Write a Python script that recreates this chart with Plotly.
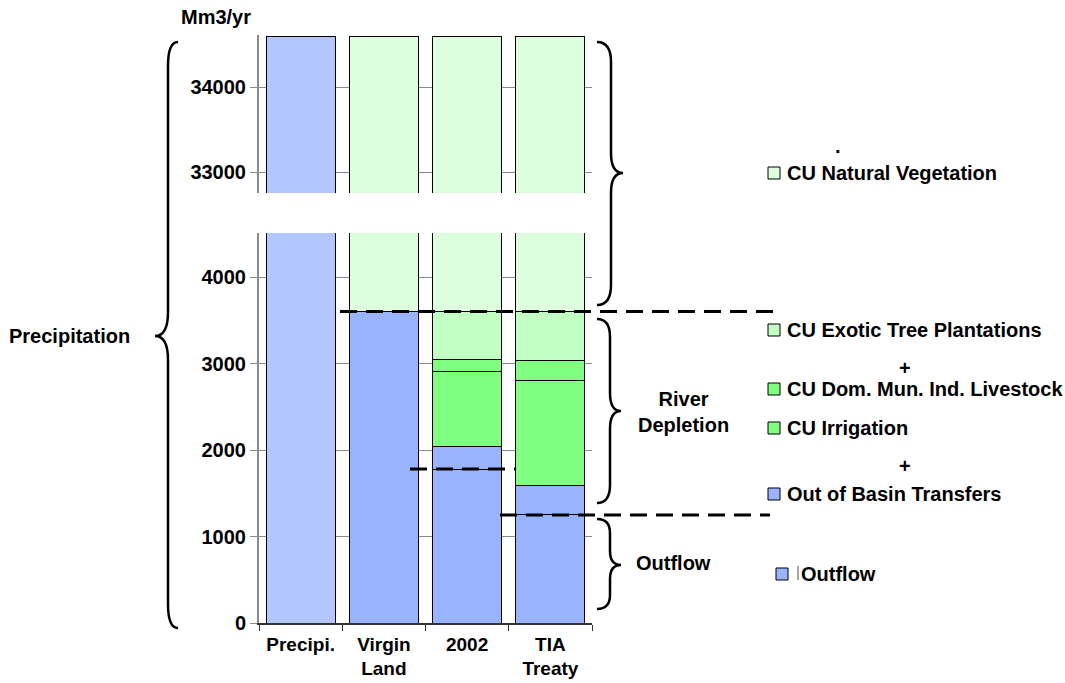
import plotly.graph_objects as go

# ---------------- data ----------------
categories = ["Precipi.", "Virgin<br>Land", "2002", "TIA<br>Treaty"]
precipitation = [34600, None, None, None]
outflow = [None, 3600, 1780, 1250]
out_of_basin = [None, None, 255, 345]
cu_irrigation = [None, None, 878, 1214]
cu_dom_mun_ind = [None, None, 139, 231]
cu_exotic = [None, None, 548, 560]
cu_natural = [None, 31000, 31000, 31000]

lower_ticks = [0, 1000, 2000, 3000, 4000]
upper_ticks = [33000, 34000]

C_PRECIP = "#b4c6ff"
C_OUT = "#9ab3ff"
C_NAT = "#ddffdd"
C_EXO = "#c2ffc2"
C_GREEN = "#80ff80"

FONT = "Liberation Sans"
FS = 20

series = [
    (precipitation, C_PRECIP),
    (outflow, C_OUT),
    (out_of_basin, C_OUT),
    (cu_irrigation, C_GREEN),
    (cu_dom_mun_ind, C_GREEN),
    (cu_exotic, C_EXO),
    (cu_natural, C_NAT),
]

fig = go.Figure()
for yax in ["y", "y2"]:
    for vals, col in series:
        fig.add_trace(go.Bar(x=categories, y=vals, yaxis=yax, xaxis="x",
                             marker=dict(color=col, line=dict(color="black", width=1)),
                             showlegend=False, hoverinfo="skip"))

W, H = 1065, 683
L, R, T, B = 259, 592, 35, 623
def X(px):
    return (px - L) / (R - L)
def Y(py):
    return (B - py) / (B - T)

axis_font = dict(family=FONT, size=FS, color="black", weight="bold")

fig.update_layout(
    width=W, height=H,
    margin=dict(l=L, r=W - R, t=T, b=H - B, autoexpand=False),
    paper_bgcolor="white", plot_bgcolor="white",
    barmode="stack", bargap=0.17,
    font=dict(family=FONT, size=FS, color="black"),
    xaxis=dict(type="category", anchor="y", showline=True, linecolor="#333333", linewidth=1.5,
               ticks="outside", tickson="boundaries", ticklen=6, tickcolor="#333333",
               tickfont=dict(family=FONT, size=19, color="black", weight="bold"),
               showgrid=False, range=[-0.5, 3.5], automargin=False,
               ticklabelstandoff=3),
    yaxis=dict(domain=[0, Y(233)], range=[0, 4509], tickvals=lower_ticks,
               ticktext=[str(v) for v in lower_ticks],
               showline=True, linecolor="#8a8a8a", linewidth=2,
               ticks="outside", ticklen=7, tickcolor="#8a8a8a",
               showgrid=True, gridcolor="#8a8a8a", gridwidth=1, zeroline=False,
               tickfont=axis_font, automargin=False),
    yaxis2=dict(domain=[Y(193), 1], range=[32754, 34612], tickvals=upper_ticks,
                ticktext=[str(v) for v in upper_ticks],
                anchor="x", showline=True, linecolor="#8a8a8a", linewidth=2,
                ticks="outside", ticklen=7, tickcolor="#8a8a8a",
                showgrid=True, gridcolor="#8a8a8a", gridwidth=1, zeroline=False,
                tickfont=axis_font, automargin=False),
)

shapes = []

# dashed outflow level lines (y from data)
dash_specs = [(outflow[1], 340, 780), (outflow[2], 410, 515), (outflow[3], 500, 770)]
for yv, xa, xb in dash_specs:
    shapes.append(dict(type="line", xref="paper", yref="y", x0=X(xa), x1=X(xb), y0=yv, y1=yv,
                       line=dict(color="black", width=3, dash="17px,9px"), layer="above"))

def brace(x_end, x_line, x_tip, yt, yb, ym, r):
    p = (f"M {X(x_end)},{Y(yt)} Q {X(x_line)},{Y(yt)} {X(x_line)},{Y(yt + r)} "
         f"L {X(x_line)},{Y(ym - r)} Q {X(x_line)},{Y(ym)} {X(x_tip)},{Y(ym)} "
         f"Q {X(x_line)},{Y(ym)} {X(x_line)},{Y(ym + r)} "
         f"L {X(x_line)},{Y(yb - r)} Q {X(x_line)},{Y(yb)} {X(x_end)},{Y(yb)}")
    return dict(type="path", xref="paper", yref="paper", path=p,
                line=dict(color="black", width=2.5), layer="above")

shapes.append(brace(178, 168, 155, 42, 628, 336, 24))
shapes.append(brace(597, 611, 623, 42, 305, 173, 20))
shapes.append(brace(597, 610, 621, 319, 503, 411, 18))
shapes.append(brace(597, 610, 621, 519, 609, 565, 14))

# legend squares
legend_items = [
    ("CU Natural Vegetation", C_NAT, 173),
    ("CU Exotic Tree Plantations", C_EXO, 330),
    ("CU Dom. Mun. Ind. Livestock", C_GREEN, 389),
    ("CU Irrigation", C_GREEN, 428),
    ("Out of Basin Transfers", C_OUT, 494),
]
annotations = []
for name, col, yc in legend_items:
    shapes.append(dict(type="rect", xref="paper", yref="paper",
                       x0=X(768), x1=X(780), y0=Y(yc - 6), y1=Y(yc + 6),
                       fillcolor=col, line=dict(color="black", width=1)))
    annotations.append(dict(text=name, xref="paper", yref="paper", x=X(785), y=Y(yc),
                            xanchor="left", yanchor="middle", showarrow=False,
                            font=dict(family=FONT, size=FS, color="black", weight="bold")))

# Outflow legend item
shapes.append(dict(type="rect", xref="paper", yref="paper",
                   x0=X(776), x1=X(788), y0=Y(580), y1=Y(568),
                   fillcolor=C_OUT, line=dict(color="black", width=1)))
shapes.append(dict(type="line", xref="paper", yref="paper",
                   x0=X(798), x1=X(798), y0=Y(580), y1=Y(566),
                   line=dict(color="#555555", width=1)))
annotations.append(dict(text="Outflow", xref="paper", yref="paper", x=X(799), y=Y(574),
                        xanchor="left", yanchor="middle", showarrow=False,
                        font=dict(family=FONT, size=FS, color="black", weight="bold")))

# plus signs and dot
for txt, xc, yc in [("+", 905, 368), ("+", 905, 466), (".", 838, 146)]:
    annotations.append(dict(text=txt, xref="paper", yref="paper", x=X(xc), y=Y(yc),
                            xanchor="center", yanchor="middle", showarrow=False,
                            font=dict(family=FONT, size=FS, color="black", weight="bold")))

# other labels
labels = [
    ("Mm3/yr", 216, 17),
    ("Precipitation", 69, 336),
    ("River<br>Depletion", 683, 412),
    ("Outflow", 673, 563),
]
for txt, xc, yc in labels:
    annotations.append(dict(text=txt, xref="paper", yref="paper", x=X(xc), y=Y(yc),
                            xanchor="center", yanchor="middle", showarrow=False,
                            font=dict(family=FONT, size=FS, color="black", weight="bold")))

fig.update_layout(shapes=shapes, annotations=annotations)
fig.write_html("out.html", config={"displayModeBar": False},
               post_script="document.body.style.margin='0';document.body.style.overflow='hidden';")
